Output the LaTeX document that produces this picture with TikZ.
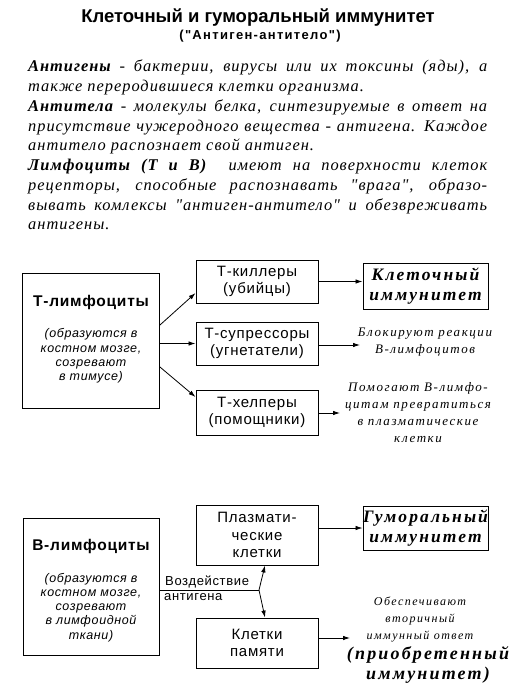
\documentclass[tikz,border=0pt]{standalone}
\usepackage{fontspec}
\setmainfont{Liberation Serif}
\setsansfont{Liberation Sans}
\newfontfamily\spacedserif[LetterSpace=6]{Liberation Serif}
\newfontfamily\wideserif[LetterSpace=12]{Liberation Serif}
\newfontfamily\boxsans[LetterSpace=5]{Liberation Sans}
\newfontfamily\widesans[LetterSpace=10]{Liberation Sans}
\usetikzlibrary{arrows.meta}

\tikzset{
  box/.style={draw, line width=0.9pt, inner sep=0pt, align=center,
    font=\boxsans\fontsize{15}{17.5}\selectfont},
  arr/.style={-{Latex[length=7pt,width=4.5pt]}, line width=0.8pt},
  cellname/.style={font=\boxsans\bfseries\fontsize{15.5}{18}\selectfont},
  cellnote/.style={align=center, font=\boxsans\itshape\fontsize{12.5}{14.2}\selectfont},
  note/.style={align=center, font=\wideserif\itshape\fontsize{13}{17}\selectfont},
  result/.style={align=center, font=\wideserif\bfseries\itshape\fontsize{17.5}{20}\selectfont},
}

\begin{document}
\begin{tikzpicture}[x=1pt, y=-1pt]
  \useasboundingbox (0,0) rectangle (515,696);

  % heading
  \node[font=\sffamily\bfseries\fontsize{18.5}{20}\selectfont] (title) at (258,18)
    {Клеточный и гуморальный иммунитет};
  \node[font=\widesans\bfseries\fontsize{13}{15}\selectfont] (subtitle) at (260,36)
    {("Антиген-антитело")};

  \node[anchor=north west, inner sep=0pt, text width=459pt, align=justify,
    font=\spacedserif\itshape\fontsize{16.4}{19.75}\selectfont] (intro) at (28,60)
    {\noindent\textbf{Антигены} - бактерии, вирусы или их токсины (яды), а\linebreak
     также переродившиеся клетки организма.\par
     \noindent\textbf{Антитела} - молекулы белка, синтезируемые в ответ на\linebreak
     присутствие чужеродного вещества - антигена. Каждое\linebreak
     антитело распознает свой антиген.\par
     \noindent\textbf{Лимфоциты (Т и В)}\ \ имеют на поверхности клеток\linebreak
     рецепторы, способные распознавать "врага", образо-\linebreak
     вывать комлексы "антиген-антитело" и обезвреживать\linebreak
     антигены.};

  % T-lymphocytes
  \node[box, minimum width=137pt, minimum height=135pt] (tl) at (91,340.5) {};
  \node[cellname] (tname) at (91,302) {Т-лимфоциты};
  \node[cellnote] (tnote) at (91,356) {(образуются в\\костном мозге,\\созревают\\в тимусе)};

  \node[box, minimum width=122pt, minimum height=43pt] (tk) at (257,281.5) {Т-киллеры\\(убийцы)};
  \node[box, minimum width=122pt, minimum height=43pt] (ts) at (257,343.5) {Т-супрессоры\\(угнетатели)};
  \node[box, minimum width=122pt, minimum height=45pt] (th) at (257,412.5) {Т-хелперы\\(помощники)};
  \node[box, result, minimum width=125pt, minimum height=46pt] (cell) at (425.5,286)
    {Клеточный\\иммунитет};

  \node[note] (block) at (425,342) {Блокируют реакции\\В-лимфоцитов};
  \node[note] (help) at (418,413) {Помогают В-лимфо-\\цитам превратиться\\в плазматические\\клетки};
  \coordinate (blockin) at (360,345);
  \coordinate (helpin) at (340,413);

  \draw[arr] ([yshift=15.5pt]tl.east) -- ([yshift=-11.5pt]tk.west);
  \draw[arr] (tl.east |- ts.west) -- (ts.west);
  \draw[arr] ([yshift=-26.5pt]tl.east) -- ([yshift=15.5pt]th.west);
  \draw[arr] (tk.east) -- (tk.east -| cell.west);
  \draw[arr] (ts.east |- blockin) -- (blockin);
  \draw[arr] (th.east |- helpin) -- (helpin);

  % B-lymphocytes
  \node[box, minimum width=136pt, minimum height=137pt] (bl) at (91,586.5) {};
  \node[cellname] (bname) at (91,546) {В-лимфоциты};
  \node[cellnote] (bnote) at (91,607.5)
    {(образуются в\\костном мозге,\\созревают\\в лимфоидной\\ткани)};

  \node[box, minimum width=122pt, minimum height=60pt] (pl) at (257,535) {Плазмати-\\ческие\\клетки};
  \node[box, minimum width=122pt, minimum height=50pt] (mem) at (257,643) {Клетки\\памяти};
  \node[box, result, minimum width=125pt, minimum height=44pt] (hum) at (425.5,528)
    {Гуморальный\\иммунитет};

  \coordinate (fork) at (259,590);
  \draw[line width=0.8pt] (bl.east |- fork) -- (fork);
  \node[anchor=south west, font=\boxsans\fontsize{13}{15}\selectfont, inner sep=1pt] (actA) at (164,589) {Воздействие};
  \node[anchor=north west, font=\boxsans\fontsize{13}{15}\selectfont, inner sep=1pt] (actB) at (163,592) {антигена};
  \draw[arr] (fork) -- ([xshift=8pt]pl.south);
  \draw[arr] (fork) -- ([xshift=8pt]mem.north);
  \draw[arr] (pl.east |- hum.west) -- (hum.west);

  \node[note, font=\wideserif\itshape\fontsize{12}{17}\selectfont] (second) at (420,619)
    {Обеспечивают\\вторичный\\иммунный ответ};
  \node[result, font=\wideserif\bfseries\itshape\fontsize{18}{20}\selectfont] (acquired) at (428,665)
    {(приобретенный\\иммунитет)};
  \coordinate (memin) at (350,638);
  \draw[arr] (mem.east |- memin) -- (memin);
\end{tikzpicture}
\end{document}
